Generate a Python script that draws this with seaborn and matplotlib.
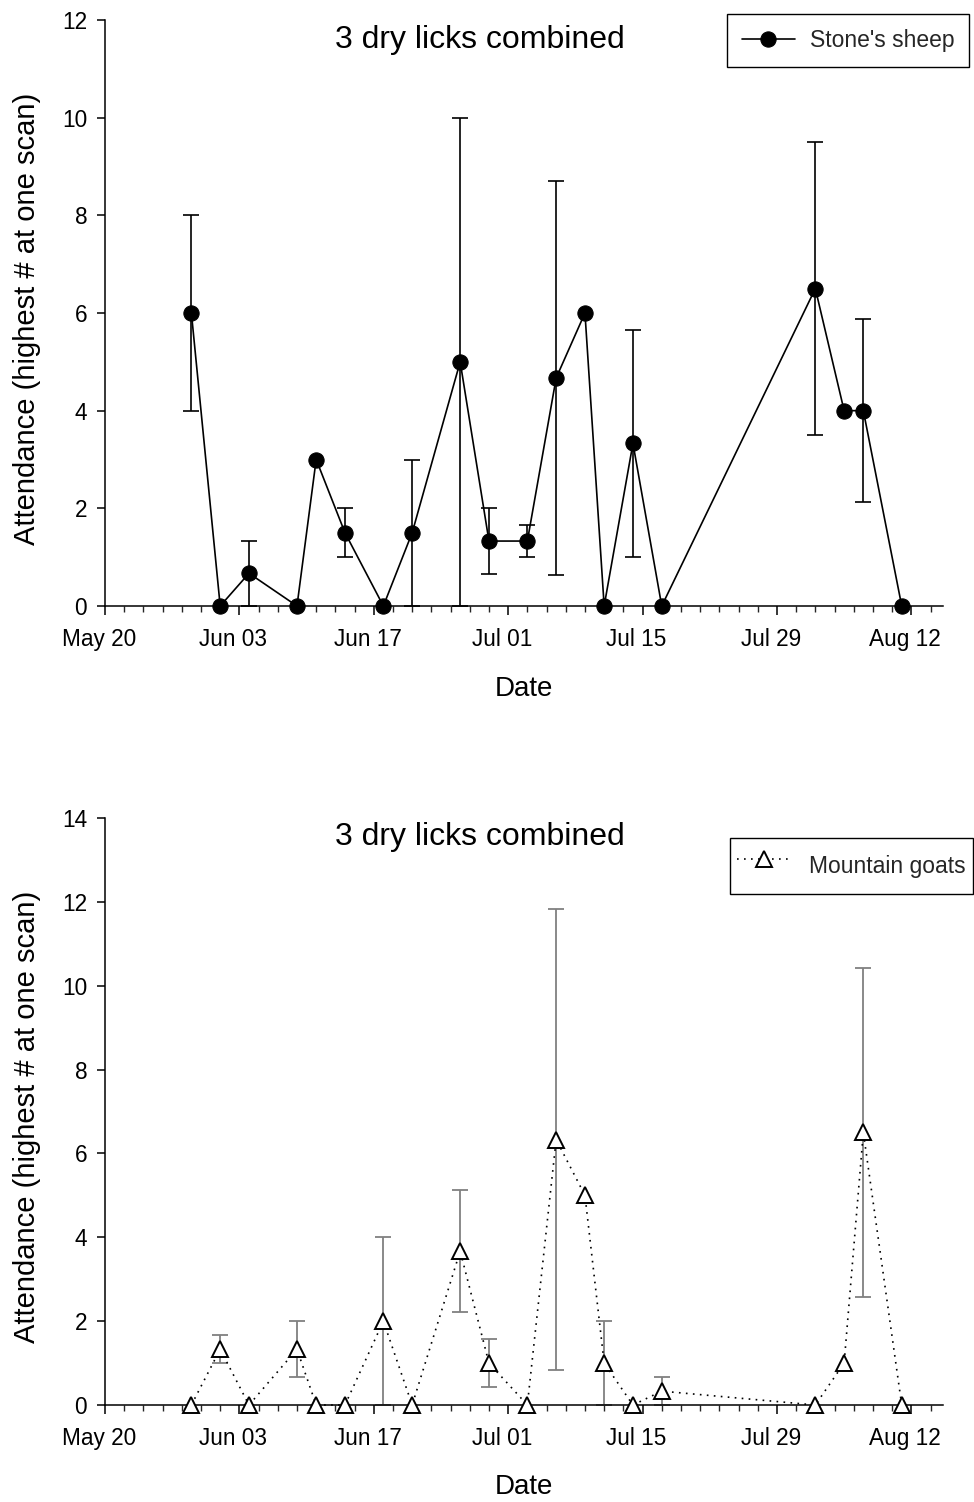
import numpy as np
import pandas as pd
import matplotlib
matplotlib.use("Agg")
import matplotlib.pyplot as plt
import matplotlib.transforms as mtransforms
import seaborn as sns

# ---------------- data ----------------
dates = ["05-29", "06-01", "06-04", "06-09", "06-11", "06-14", "06-18", "06-21",
         "06-26", "06-29", "07-03", "07-06", "07-09", "07-11", "07-14", "07-17",
         "08-02", "08-05", "08-07", "08-11"]
sheep_vals = [6, 0, 0.67, 0, 3, 1.5, 0, 1.5, 5, 1.33, 1.33, 4.67, 6, 0, 3.33, 0,
              6.5, 4, 4, 0]
sheep_err = [2, 0, 0.67, 0, 0, 0.5, 0, 1.5, 5, 0.67, 0.33, 4.04, 0, 0, 2.33, 0,
             3, 0, 1.87, 0]
goat_vals = [0, 1.33, 0, 1.33, 0, 0, 2, 0, 3.67, 1, 0, 6.33, 5, 1, 0, 0.33,
             0, 1, 6.5, 0]
goat_err = [0, 0.33, 0, 0.67, 0, 0, 2, 0, 1.45, 0.58, 0, 5.5, 0, 1, 0, 0.33,
            0, 0, 3.93, 0]
tick_labels = ["May 20", "Jun 03", "Jun 17", "Jul 01", "Jul 15", "Jul 29", "Aug 12"]
title = "3 dry licks combined"
ylabel = "Attendance (highest # at one scan)"
xlabel = "Date"
sheep_label = "Stone's sheep"
goat_label = "Mountain goats"

YEAR = "2005"
x = pd.to_datetime([f"{YEAR}-{d}" for d in dates])
start = pd.Timestamp(f"{YEAR}-05-20")
end = start + pd.Timedelta(days=87.3)
major = pd.date_range(start, periods=len(tick_labels), freq="14D")
minor = pd.date_range(start, end, freq="2D")

sns.set_theme(style="ticks")
plt.rcParams["font.family"] = ["Liberation Sans", "DejaVu Sans"]
plt.rcParams["axes.linewidth"] = 1.1

W, H = 974, 1502
fig = plt.figure(figsize=(W / 100, H / 100), dpi=100)

def make_axes(top_px, bottom_px):
    left = 105 / W
    right = 943 / W
    return fig.add_axes([left, 1 - bottom_px / H, right - left, (bottom_px - top_px) / H])

ax1 = make_axes(20, 606)
ax2 = make_axes(818, 1405)

shift = mtransforms.ScaledTranslation(-6 / 100, 0, fig.dpi_scale_trans)

def style_axis(ax, ymax, title_y, label_y):
    ax.set_xlim(start, end)
    ax.set_ylim(0, ymax)
    ax.set_yticks(np.arange(0, ymax + 0.1, 2))
    ax.set_yticklabels([str(int(v)) for v in np.arange(0, ymax + 0.1, 2)])
    ax.set_xticks(major)
    ax.set_xticklabels(tick_labels)
    ax.set_xticks(minor, minor=True)
    ax.tick_params(axis="x", which="major", length=6.5, width=1.1, pad=9,
                   labelsize=16.3, colors="black", direction="out")
    ax.tick_params(axis="x", which="minor", length=4, width=1.0, direction="out")
    ax.tick_params(axis="y", which="major", length=5.8, width=1.1, pad=7,
                   labelsize=16.3, colors="black", direction="out")
    ax.tick_params(axis="y", which="minor", length=0)
    for lab in ax.get_xticklabels():
        lab.set_transform(lab.get_transform() + shift)
    for s in ["top", "right"]:
        ax.spines[s].set_visible(False)
    for s in ["left", "bottom"]:
        ax.spines[s].set_color("black")
        ax.spines[s].set_linewidth(1.1)
    ax.set_xlabel(xlabel, fontsize=20, color="black", va="center")
    ax.set_ylabel(ylabel, fontsize=21, color="black", va="center")
    ax.xaxis.set_label_coords(0.5, label_y)
    ax.yaxis.set_label_coords(-0.093, 0.49)
    ax.text(0.447, title_y, title, transform=ax.transAxes, ha="center",
            va="center", fontsize=23, color="black")
    ax.set_facecolor("white")

# ---------- top: Stone's sheep ----------
se = np.array(sheep_err)
m = se > 0
ax1.errorbar(x[m], np.array(sheep_vals)[m], yerr=se[m], fmt="none",
             ecolor="black", elinewidth=1.2, capsize=6.1, capthick=1.2,
             zorder=2, clip_on=False)
sns.lineplot(x=x, y=sheep_vals, ax=ax1, color="black", linewidth=1.2,
             marker="o", markersize=11, markerfacecolor="black",
             markeredgecolor="black", label=sheep_label, zorder=3,
             clip_on=False, errorbar=None)
style_axis(ax1, 12, 0.966, -0.1416)
leg1 = ax1.legend(loc="upper left", bbox_to_anchor=(727 / W, 1 - 14 / H),
                  bbox_transform=fig.transFigure, fontsize=16.5, frameon=True,
                  fancybox=False, edgecolor="black", borderpad=0.66,
                  handlelength=2.3, handletextpad=0.65, borderaxespad=0)
leg1.get_frame().set_linewidth(1.0)
leg1.get_frame().set_alpha(1)

# ---------- bottom: Mountain goats ----------
ge = np.array(goat_err)
m = ge > 0
ax2.errorbar(x[m], np.array(goat_vals)[m], yerr=ge[m], fmt="none",
             ecolor="#808080", elinewidth=1.3, capsize=6.1, capthick=1.3,
             zorder=2, clip_on=False)
sns.lineplot(x=x, y=goat_vals, ax=ax2, color="black", linewidth=1.2,
             linestyle=(0, (1, 3.2)), marker="^", markersize=11.5,
             markerfacecolor="white", markeredgecolor="black",
             markeredgewidth=1.4, label=goat_label, zorder=3, clip_on=False,
             errorbar=None)
style_axis(ax2, 14, 0.968, -0.140)
leg2 = ax2.legend(loc="upper left", bbox_to_anchor=(730 / W, 1 - 838 / H),
                  bbox_transform=fig.transFigure, fontsize=16.5, frameon=True,
                  fancybox=False, edgecolor="black", borderpad=0.3,
                  handleheight=2.45, handlelength=2.4, handletextpad=0.75,
                  borderaxespad=0)
leg2.get_frame().set_linewidth(1.0)
leg2.get_frame().set_alpha(1)

fig.savefig("out.png", dpi=100, facecolor="white")
